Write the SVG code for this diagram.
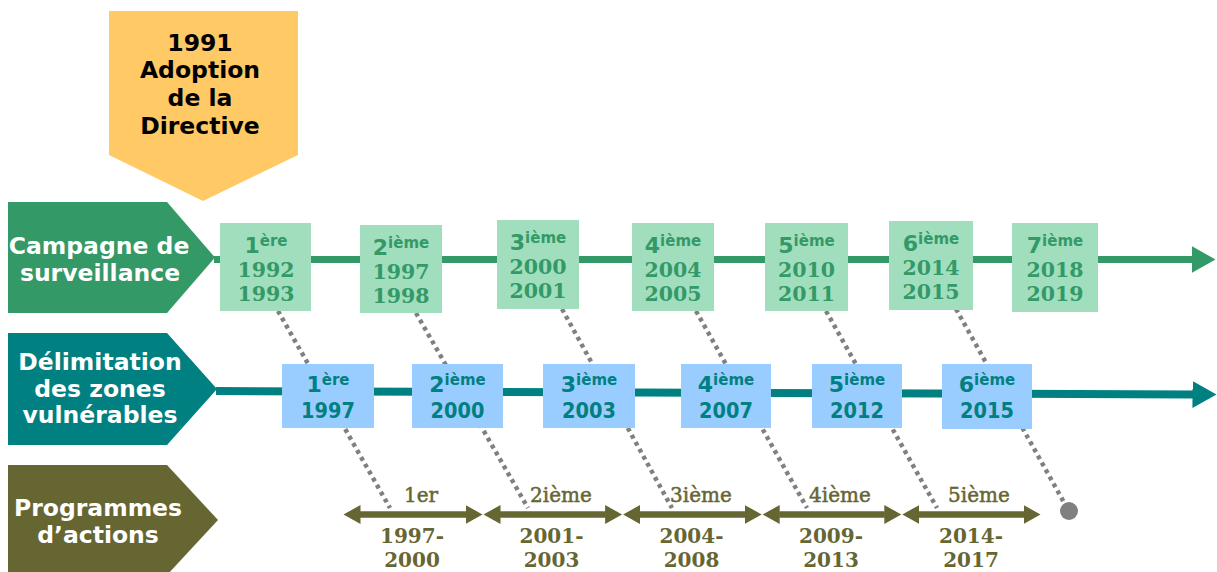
<svg xmlns="http://www.w3.org/2000/svg" width="1217" height="572" viewBox="0 0 1217 572">
<style>
.lbl{font-family:"DejaVu Sans",sans-serif;font-weight:bold;font-size:23.5px;fill:#fff;text-anchor:middle}
.ttl{font-family:"DejaVu Sans",sans-serif;font-weight:bold;font-size:23.5px;fill:#000;text-anchor:middle}
.b1{fill:#A0DEBE}
.b2{fill:#99CCFF}
.n1{font-family:"DejaVu Sans",sans-serif;font-weight:bold;text-anchor:middle;fill:#339966}
.n2{font-family:"DejaVu Sans",sans-serif;font-weight:bold;text-anchor:middle;fill:#008080}
.dg{font-size:22px}
.sp{font-size:15px}
.y1{font-family:"DejaVu Serif",serif;font-weight:bold;font-size:20.5px;fill:#339966;text-anchor:middle}
.y2{font-family:"DejaVu Sans",sans-serif;font-stretch:condensed;font-weight:bold;font-size:21.5px;fill:#008080;text-anchor:middle}
.pl{font-family:"DejaVu Serif",serif;font-size:20px;fill:#666633;stroke:#666633;stroke-width:0.5;text-anchor:middle}
.py{font-family:"DejaVu Serif",serif;font-weight:bold;font-size:20px;fill:#666633;text-anchor:middle}
.dot{stroke:#808080;stroke-width:4.5;stroke-dasharray:4 4;fill:none}
.pa{stroke:#666633;stroke-width:6.5;marker-start:url(#ha);marker-end:url(#ha)}
</style>
<defs>
<marker id="h1" markerUnits="userSpaceOnUse" markerWidth="25" markerHeight="27" refX="0.5" refY="13.5" orient="auto"><path d="M0,0 L24,13.5 L0,27 z" fill="#339966"/></marker>
<marker id="h2" markerUnits="userSpaceOnUse" markerWidth="25" markerHeight="27" refX="0.5" refY="13.5" orient="auto"><path d="M0,0 L24,13.5 L0,27 z" fill="#008080"/></marker>
<marker id="ha" markerUnits="userSpaceOnUse" markerWidth="18" markerHeight="20" refX="0.5" refY="9.5" orient="auto-start-reverse"><path d="M0,0 L17,9.5 L0,19 z" fill="#666633"/></marker>
</defs>

<g id="connectors">
<line x1="214" y1="259.5" x2="1192" y2="259.5" stroke="#339966" stroke-width="7" marker-end="url(#h1)"/>
<line x1="216" y1="391" x2="1193" y2="394.5" stroke="#008080" stroke-width="8" marker-end="url(#h2)"/>
<line class="dot" x1="278" y1="311" x2="390" y2="508"/>
<line class="dot" x1="416" y1="313" x2="528" y2="508"/>
<line class="dot" x1="562" y1="309" x2="672" y2="508"/>
<line class="dot" x1="696" y1="311" x2="807" y2="508"/>
<line class="dot" x1="826" y1="311" x2="937" y2="508"/>
<line class="dot" x1="956" y1="309" x2="1066" y2="506"/>
<circle cx="1069" cy="511" r="9" fill="#808080"/>
<line class="pa" x1="360" y1="514.5" x2="466" y2="514.5"/>
<line class="pa" x1="500" y1="514.5" x2="605.6" y2="514.5"/>
<line class="pa" x1="639.6" y1="514.5" x2="745.2" y2="514.5"/>
<line class="pa" x1="779.2" y1="514.5" x2="884.8" y2="514.5"/>
<line class="pa" x1="918.8" y1="514.5" x2="1024" y2="514.5"/>
</g>

<g id="directive">
<path d="M109,11 H298 V155 L203,201 L109,155 Z" fill="#FFC966"/>
<text class="ttl" x="200" y="51">1991</text>
<text class="ttl" x="200" y="78">Adoption</text>
<text class="ttl" x="200" y="106">de la</text>
<text class="ttl" x="200" y="134">Directive</text>
</g>

<g id="campagne">
<path d="M8,202 H167 L215,257.5 L167,313 H8 Z" fill="#339966"/>
<text class="lbl" x="99" y="254">Campagne de</text>
<text class="lbl" x="100" y="281">surveillance</text>
</g>

<g id="delimitation">
<path d="M8,333 H167 L217,389 L167,445 H8 Z" fill="#008080"/>
<text class="lbl" x="100" y="370">Délimitation</text>
<text class="lbl" x="100" y="397">des zones</text>
<text class="lbl" x="100" y="423">vulnérables</text>
</g>

<g id="programmes">
<path d="M8,465 H167 L218,520 L167,575 H8 Z" fill="#666633"/>
<text class="lbl" x="98" y="516">Programmes</text>
<text class="lbl" x="98" y="543">d’actions</text>
</g>

<g id="c1"><rect class="b1" x="220" y="223" width="91" height="88"/>
<text class="n1" x="266" y="253"><tspan class="dg">1</tspan><tspan class="sp" dy="-7">ère</tspan></text>
<text class="y1" x="266" y="277">1992</text><text class="y1" x="266" y="301">1993</text></g>
<g id="c2"><rect class="b1" x="360" y="225" width="82" height="88"/>
<text class="n1" x="401" y="255"><tspan class="dg">2</tspan><tspan class="sp" dy="-7">ième</tspan></text>
<text class="y1" x="401" y="279">1997</text><text class="y1" x="401" y="303">1998</text></g>
<g id="c3"><rect class="b1" x="497" y="220" width="82" height="89"/>
<text class="n1" x="538" y="250"><tspan class="dg">3</tspan><tspan class="sp" dy="-7">ième</tspan></text>
<text class="y1" x="538" y="274">2000</text><text class="y1" x="538" y="298">2001</text></g>
<g id="c4"><rect class="b1" x="632" y="223" width="82" height="88"/>
<text class="n1" x="673" y="253"><tspan class="dg">4</tspan><tspan class="sp" dy="-7">ième</tspan></text>
<text class="y1" x="673" y="277">2004</text><text class="y1" x="673" y="301">2005</text></g>
<g id="c5"><rect class="b1" x="765" y="223" width="83" height="88"/>
<text class="n1" x="806.5" y="253"><tspan class="dg">5</tspan><tspan class="sp" dy="-7">ième</tspan></text>
<text class="y1" x="806.5" y="277">2010</text><text class="y1" x="806.5" y="301">2011</text></g>
<g id="c6"><rect class="b1" x="889" y="221" width="84" height="89"/>
<text class="n1" x="931" y="251"><tspan class="dg">6</tspan><tspan class="sp" dy="-7">ième</tspan></text>
<text class="y1" x="931" y="275">2014</text><text class="y1" x="931" y="299">2015</text></g>
<g id="c7"><rect class="b1" x="1012" y="223" width="86" height="89"/>
<text class="n1" x="1055" y="253"><tspan class="dg">7</tspan><tspan class="sp" dy="-7">ième</tspan></text>
<text class="y1" x="1055" y="277">2018</text><text class="y1" x="1055" y="301">2019</text></g>

<g id="z1"><rect class="b2" x="282" y="364" width="92" height="64"/>
<text class="n2" x="328" y="392"><tspan class="dg">1</tspan><tspan class="sp" dy="-7">ère</tspan></text>
<text class="y2" x="328" y="418">1997</text></g>
<g id="z2"><rect class="b2" x="412" y="364" width="91" height="64"/>
<text class="n2" x="457.5" y="392"><tspan class="dg">2</tspan><tspan class="sp" dy="-7">ième</tspan></text>
<text class="y2" x="457.5" y="418">2000</text></g>
<g id="z3"><rect class="b2" x="543" y="364" width="92" height="64"/>
<text class="n2" x="589" y="392"><tspan class="dg">3</tspan><tspan class="sp" dy="-7">ième</tspan></text>
<text class="y2" x="589" y="418">2003</text></g>
<g id="z4"><rect class="b2" x="681" y="364" width="90" height="64"/>
<text class="n2" x="726" y="392"><tspan class="dg">4</tspan><tspan class="sp" dy="-7">ième</tspan></text>
<text class="y2" x="726" y="418">2007</text></g>
<g id="z5"><rect class="b2" x="812" y="364" width="90" height="64"/>
<text class="n2" x="857" y="392"><tspan class="dg">5</tspan><tspan class="sp" dy="-7">ième</tspan></text>
<text class="y2" x="857" y="418">2012</text></g>
<g id="z6"><rect class="b2" x="942" y="364" width="90" height="65"/>
<text class="n2" x="987" y="392"><tspan class="dg">6</tspan><tspan class="sp" dy="-7">ième</tspan></text>
<text class="y2" x="987" y="418">2015</text></g>

<g id="p1"><text class="pl" x="421" y="502">1er</text><text class="py" x="412" y="543">1997-</text><text class="py" x="412" y="567">2000</text></g>
<g id="p2"><text class="pl" x="561" y="502">2ième</text><text class="py" x="551.5" y="543">2001-</text><text class="py" x="551.5" y="567">2003</text></g>
<g id="p3"><text class="pl" x="701" y="502">3ième</text><text class="py" x="691.5" y="543">2004-</text><text class="py" x="691.5" y="567">2008</text></g>
<g id="p4"><text class="pl" x="840" y="502">4ième</text><text class="py" x="831" y="543">2009-</text><text class="py" x="831" y="567">2013</text></g>
<g id="p5"><text class="pl" x="979" y="502">5ième</text><text class="py" x="971" y="543">2014-</text><text class="py" x="971" y="567">2017</text></g>
</svg>
